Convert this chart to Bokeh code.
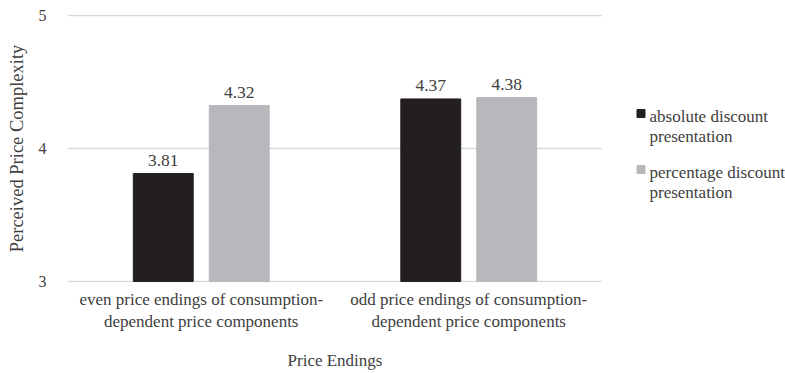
from bokeh.plotting import figure
from bokeh.layouts import row
from bokeh.models import ColumnDataSource, FactorRange, Range1d, LabelSet, FixedTicker
from bokeh.transform import dodge
from bokeh.embed import file_html
from bokeh.resources import INLINE

categories = ["even price endings of consumption-\ndependent price components",
              "odd price endings of consumption-\ndependent price components"]
absolute = [3.81, 4.37]
percentage = [4.32, 4.38]
series_names = ["absolute discount\npresentation", "percentage discount\npresentation"]
y_ticks = [3, 4, 5]

FONT = "Liberation Serif"
BLACK = "#231f20"
GRAY = "#b7b8bb"
TXT = "#404040"
COLORS = [BLACK, GRAY]

src = ColumnDataSource(dict(
    cat=categories,
    absolute=absolute,
    percentage=percentage,
    abs_lbl=[f"{v:.2f}" for v in absolute],
    pct_lbl=[f"{v:.2f}" for v in percentage],
))

p = figure(x_range=FactorRange(*categories), y_range=Range1d(2.992, 5.004),
           width=602, height=373, output_backend="svg", toolbar_location=None,
           min_border_left=67, min_border_right=0, min_border_top=14, min_border_bottom=91)
p.outline_line_color = None
p.background_fill_color = "white"

p.vbar(x=dodge("cat", -0.142, range=p.x_range), top="absolute", bottom=3, width=0.224,
       source=src, fill_color=BLACK, line_color=BLACK)
p.vbar(x=dodge("cat", 0.142, range=p.x_range), top="percentage", bottom=3, width=0.224,
       source=src, fill_color=GRAY, line_color=GRAY)

for col, lbl, off in [("absolute", "abs_lbl", -0.142), ("percentage", "pct_lbl", 0.142)]:
    ls = LabelSet(x=dodge("cat", off, range=p.x_range), y=col, text=lbl, source=src,
                  y_offset=8, text_align="center", text_baseline="bottom",
                  text_font=FONT, text_font_size="17.5px", text_color=TXT)
    p.add_layout(ls)

p.yaxis.ticker = FixedTicker(ticks=y_ticks)
p.yaxis.axis_line_color = None
p.yaxis.major_tick_line_color = None
p.yaxis.minor_tick_line_color = None
p.yaxis.major_label_text_font = FONT
p.yaxis.major_label_text_font_size = "16px"
p.yaxis.major_label_text_color = TXT
p.yaxis.major_label_standoff = 15
p.yaxis.axis_label = "Perceived Price Complexity"
p.yaxis.axis_label_text_font = FONT
p.yaxis.axis_label_text_font_size = "18.5px"
p.yaxis.axis_label_text_font_style = "normal"
p.yaxis.axis_label_text_color = TXT
p.yaxis.axis_label_standoff = 9

p.xaxis.axis_line_color = None
p.xaxis.major_tick_line_color = None
p.xaxis.minor_tick_line_color = None
p.xaxis.major_label_text_font = FONT
p.xaxis.major_label_text_font_size = "17px"
p.xaxis.major_label_text_color = TXT
p.xaxis.major_label_standoff = 1
p.xaxis.axis_label = "Price Endings"
p.xaxis.axis_label_text_font = FONT
p.xaxis.axis_label_text_font_size = "17px"
p.xaxis.axis_label_text_font_style = "normal"
p.xaxis.axis_label_text_color = TXT
p.xaxis.axis_label_standoff = 17

p.xgrid.grid_line_color = None
p.ygrid.grid_line_color = "#d9d9d9"
p.ygrid.grid_line_width = 1.5

# legend panel: its frame is aligned with the main frame, so use a reversed
# range in page pixels
lg = figure(width=183, height=373, output_backend="svg", toolbar_location=None,
            x_range=Range1d(0, 183), y_range=Range1d(282, 14),
            x_axis_location=None, y_axis_location=None,
            min_border=0, min_border_left=0, min_border_right=0,
            min_border_top=14, min_border_bottom=91)
lg.outline_line_color = None
lg.xgrid.grid_line_color = None
lg.ygrid.grid_line_color = None

item_top = 106
item_step = 56
sq_x = 38.5
sq_size = 8
txt_x = 47
item_y = [item_top + i * item_step for i in range(len(series_names))]
leg_src = ColumnDataSource(dict(
    sx=[sq_x] * len(series_names),
    sy=[y + 7 for y in item_y],
    tx=[txt_x] * len(series_names),
    ty=item_y,
    name=series_names,
    color=COLORS,
))
lg.rect(x="sx", y="sy", width=sq_size, height=sq_size, source=leg_src,
        fill_color="color", line_color="color")
lg.text(x="tx", y="ty", text="name", source=leg_src, text_font="Liberation Serif",
        text_font_size="17px", text_color=TXT, text_baseline="top", text_align="left",
        text_line_height=1.1)

layout = row(p, lg)
open("out.html", "w").write(file_html(layout, INLINE))
